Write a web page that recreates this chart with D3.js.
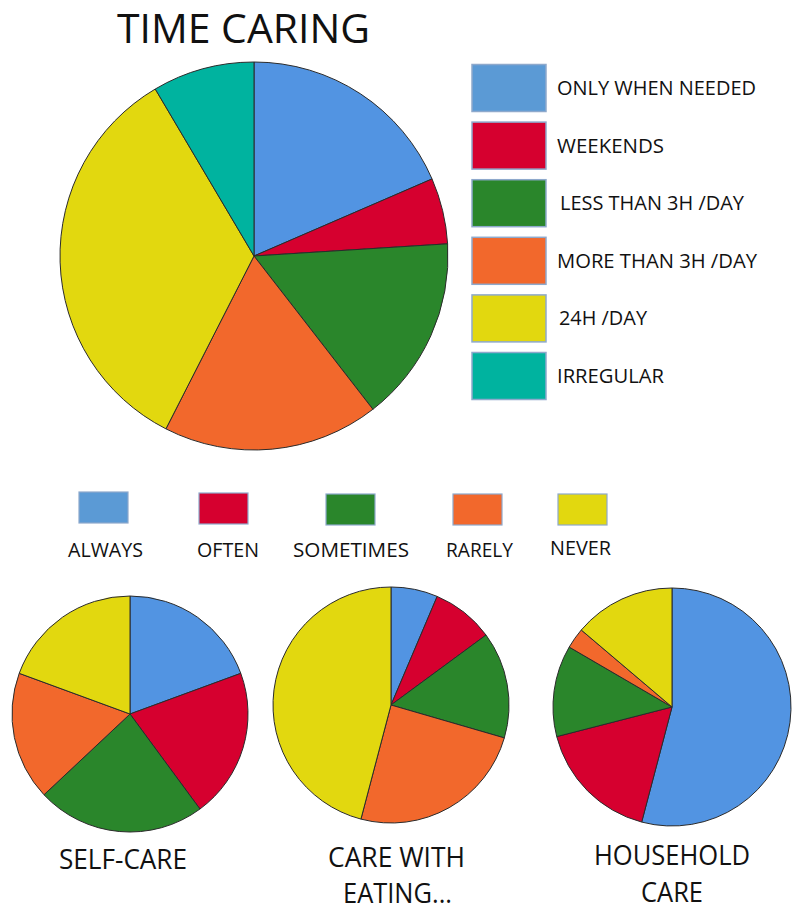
<!DOCTYPE html>
<html>
<head>
<meta charset="utf-8">
<script src="https://cdn.jsdelivr.net/npm/d3@7"></script>
<style>
  html, body { margin: 0; padding: 0; background: #fff; }
  svg { display: block; }
  text { font-family: "Open Sans", "Noto Sans", sans-serif; fill: #111; }
</style>
</head>
<body>
<svg id="chart" width="794" height="911"></svg>
<script>
// ---- data ----
const timeCategories = ["ONLY WHEN NEEDED", "WEEKENDS", "LESS THAN 3H /DAY", "MORE THAN 3H /DAY", "24H /DAY", "IRREGULAR"];
const timeValues = [18.5, 5.5, 15.5, 18, 34, 8.5];

const freqCategories = ["ALWAYS", "OFTEN", "SOMETIMES", "RARELY", "NEVER"];
const selfCareValues = [19.4, 20.5, 23.1, 17.6, 19.4];
const eatingValues = [6.4, 8.5, 14.6, 24.6, 45.9];
const householdValues = [54.1, 16.9, 12.4, 2.8, 13.8];

const smallTitles = [["SELF-CARE"], ["CARE WITH", "EATING..."], ["HOUSEHOLD", "CARE"]];

// ---- palette ----
const sliceColors = ["#5294E2", "#D6002F", "#2A862B", "#F2682C", "#E2D80F", "#00B39F"];
const swatchColors = ["#5B9AD5", "#D6002F", "#2A862B", "#F2682C", "#E2D80F", "#00B39F"];

const svg = d3.select("#chart");

const pie = d3.pie().sort(null).value(d => d);

function drawPie(values, cx, cy, r) {
  const arc = d3.arc().innerRadius(0).outerRadius(r);
  const g = svg.append("g").attr("transform", `translate(${cx},${cy})`);
  g.selectAll("path")
    .data(pie(values))
    .join("path")
    .attr("d", arc)
    .attr("fill", (d, i) => sliceColors[i])
    .attr("stroke", "#2b2b2b")
    .attr("stroke-width", 1)
    .attr("stroke-linejoin", "round");
  return g;
}

// ---- main chart ----
svg.append("text")
  .attr("x", 117).attr("y", 43)
  .attr("font-size", 40)
  .attr("textLength", 253).attr("lengthAdjust", "spacingAndGlyphs")
  .text("TIME CARING");

drawPie(timeValues, 254, 256, 194);

// legend on the right
const legendY = d3.scalePoint().domain(timeCategories).range([88, 376]);
const legendTextLen = [199, 107, 184, 200, 88, 107];
const legendTextX = [557, 557, 560, 557, 559, 557];
const lg = svg.append("g");
timeCategories.forEach((c, i) => {
  const y = legendY(c);
  lg.append("rect")
    .attr("x", 472).attr("y", y - 23.5)
    .attr("width", 74).attr("height", 47)
    .attr("fill", swatchColors[i])
    .attr("stroke", "#8EA9CC").attr("stroke-width", 1.5);
  lg.append("text")
    .attr("x", legendTextX[i]).attr("y", y + 7)
    .attr("font-size", 20.5)
    .attr("textLength", legendTextLen[i]).attr("lengthAdjust", "spacingAndGlyphs")
    .text(c);
});

// ---- frequency legend ----
const swX = [79, 199, 326, 453, 558];
const swY = [492, 493, 494, 494, 494];
const lblX = [68, 197, 293, 446, 550];
const lblLen = [75, 62, 116, 67, 61];
const lblY = [557, 557, 557, 557, 555];
const fg = svg.append("g");
freqCategories.forEach((c, i) => {
  fg.append("rect")
    .attr("x", swX[i]).attr("y", swY[i])
    .attr("width", 49).attr("height", 31)
    .attr("fill", swatchColors[i])
    .attr("stroke", "#8EA9CC").attr("stroke-width", 1.2);
  fg.append("text")
    .attr("x", lblX[i]).attr("y", lblY[i])
    .attr("font-size", 20)
    .attr("textLength", lblLen[i]).attr("lengthAdjust", "spacingAndGlyphs")
    .text(c);
});

// ---- small pies ----
const smallSets = [
  { values: selfCareValues, cx: 130, cy: 714, r: 118 },
  { values: eatingValues, cx: 391, cy: 705, r: 118 },
  { values: householdValues, cx: 672, cy: 707, r: 119 }
];
smallSets.forEach(s => drawPie(s.values, s.cx, s.cy, s.r));

// captions under the small pies
const capLines = [
  [{ x: 59, y: 869, len: 128 }],
  [{ x: 328, y: 867, len: 137 }, { x: 343, y: 903, len: 109 }],
  [{ x: 594, y: 865, len: 156 }, { x: 641, y: 902, len: 62 }]
];
smallTitles.forEach((lines, k) => {
  lines.forEach((t, j) => {
    const p = capLines[k][j];
    svg.append("text")
      .attr("x", p.x).attr("y", p.y)
      .attr("font-size", 28)
      .attr("textLength", p.len).attr("lengthAdjust", "spacingAndGlyphs")
      .text(t);
  });
});
</script>
</body>
</html>
